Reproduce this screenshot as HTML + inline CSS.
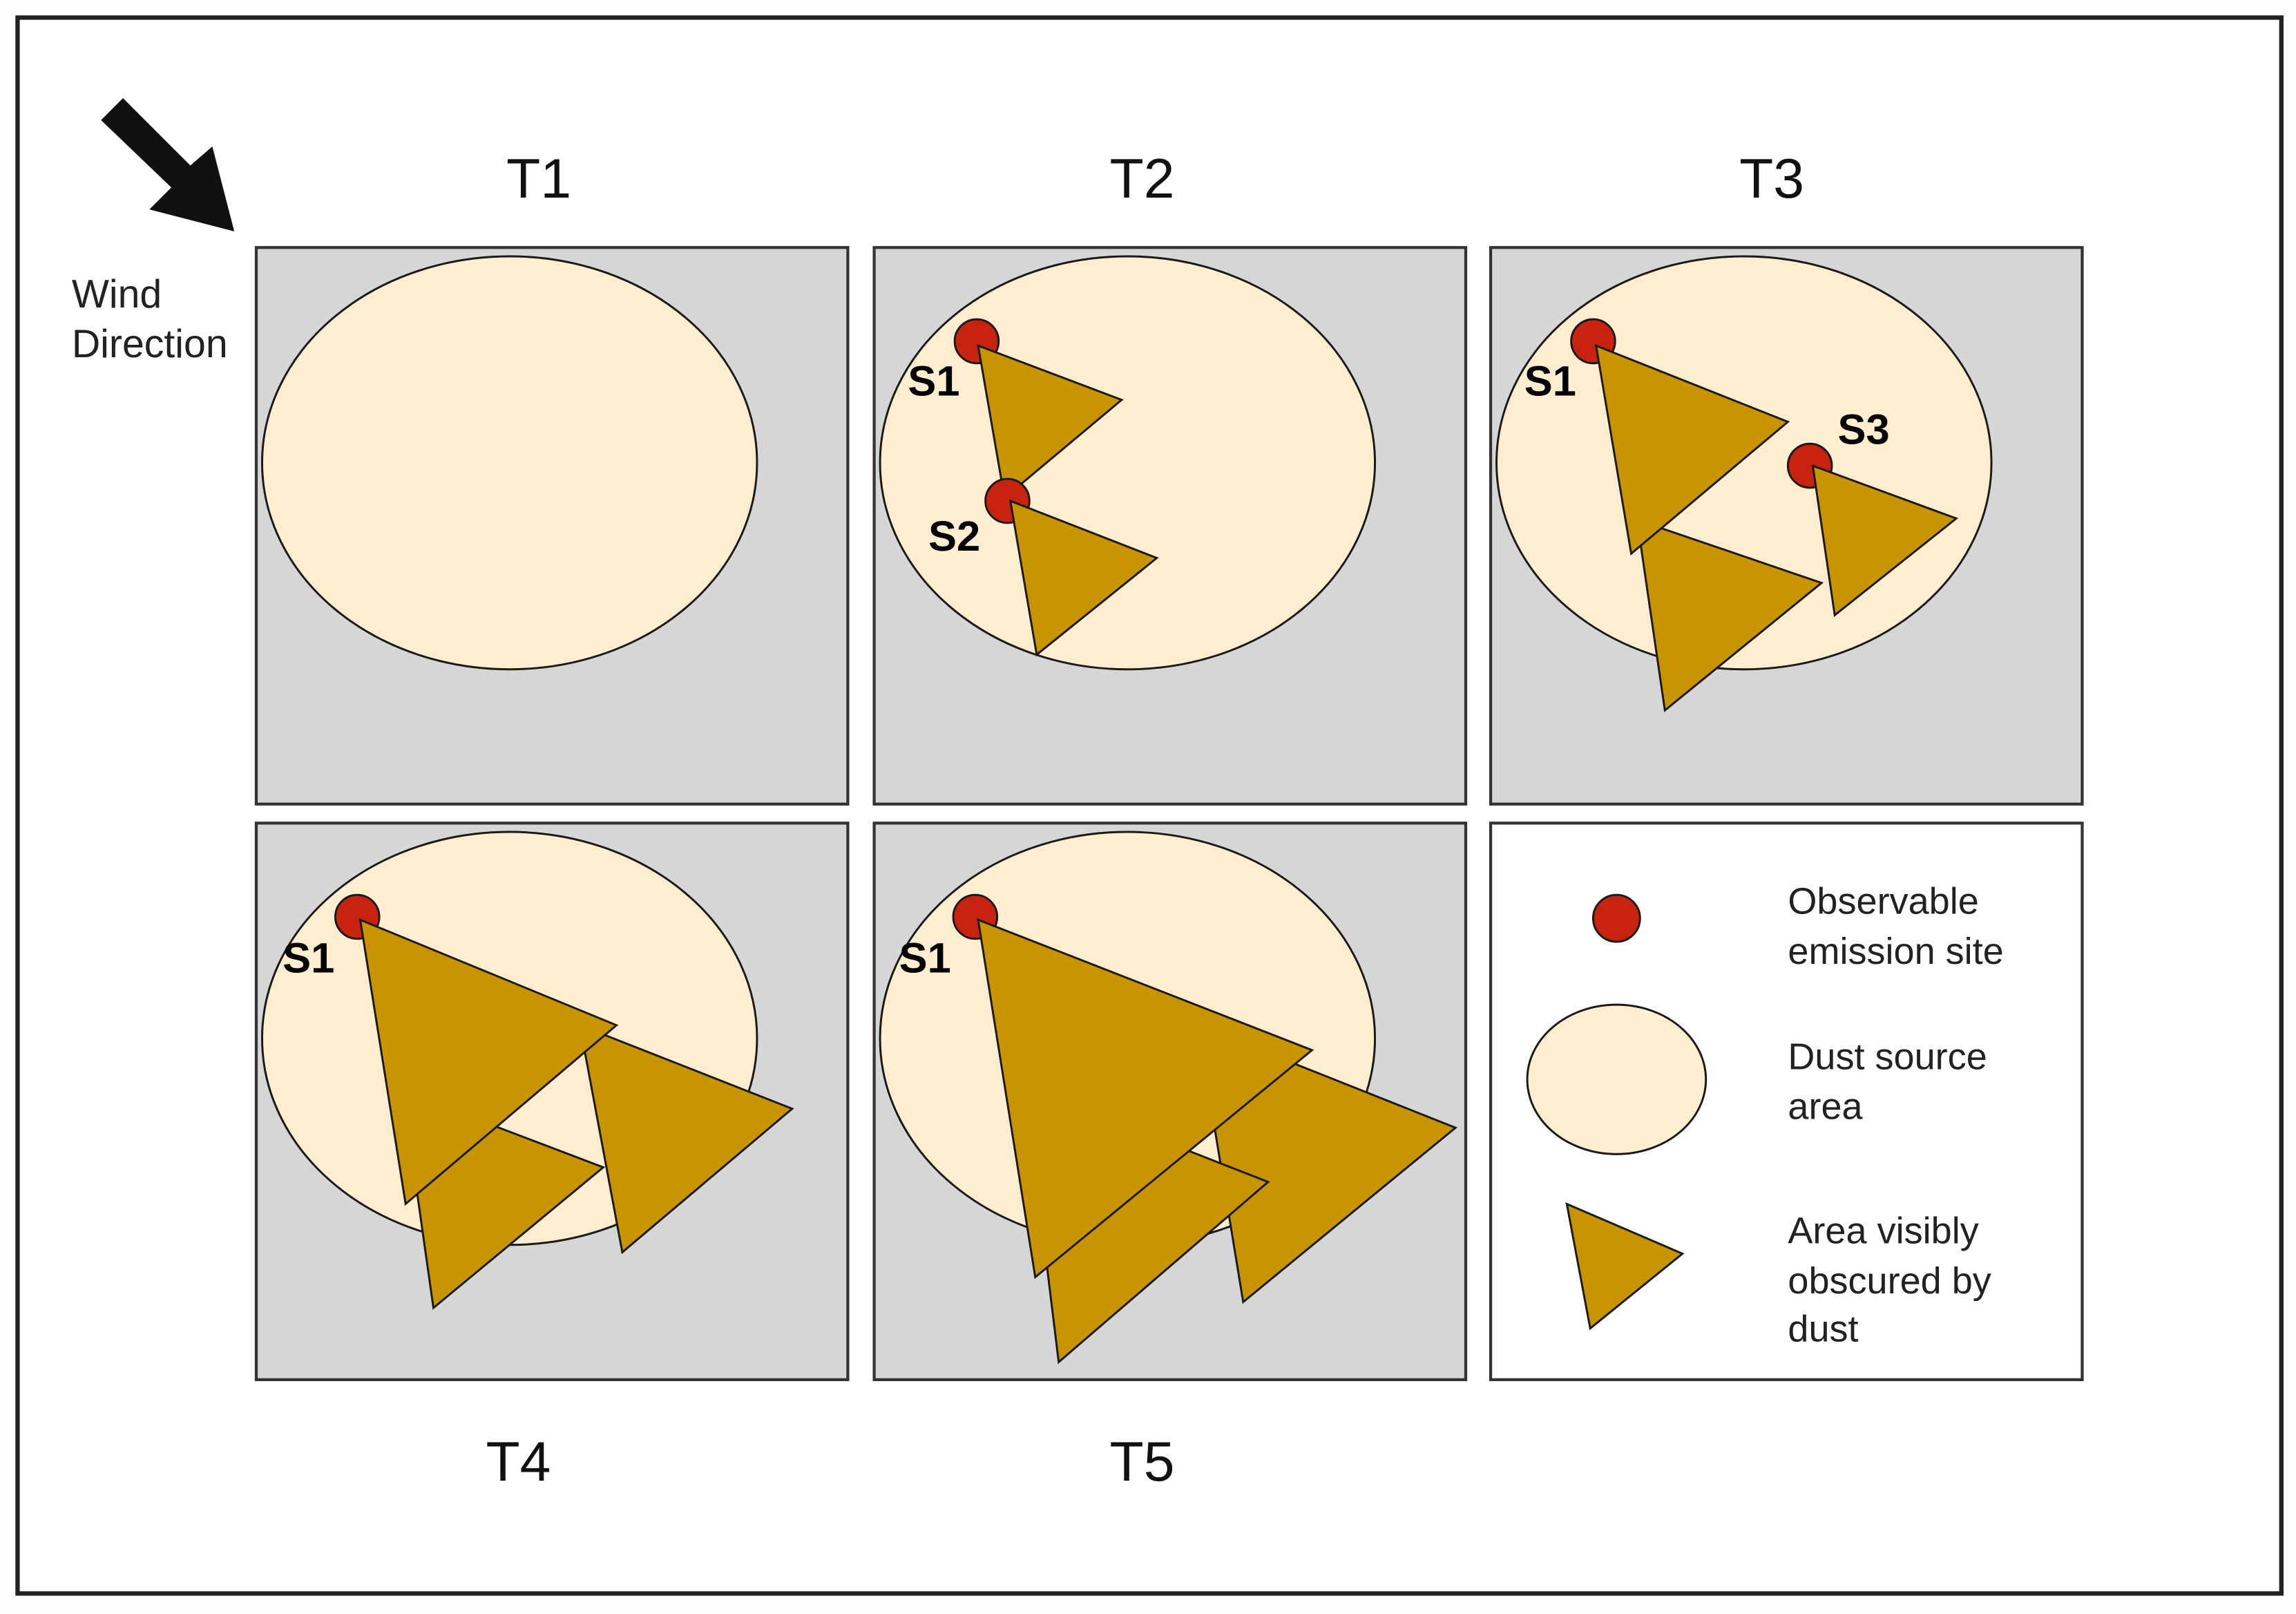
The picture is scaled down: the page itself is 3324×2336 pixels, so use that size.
<!DOCTYPE html>
<html><head><meta charset="utf-8"><style>html,body{margin:0;padding:0;background:#fff}svg{display:block}</style></head>
<body>
<svg width="3324" height="2336" viewBox="0 0 1568 1102" preserveAspectRatio="none" xmlns="http://www.w3.org/2000/svg" font-family="Liberation Sans, sans-serif">
<rect x="0" y="0" width="1568" height="1102" fill="#fdfdfd"/>
<rect x="12" y="12" width="1546" height="1076" fill="#fff" stroke="#222" stroke-width="3"/>
<polygon points="69,82 84,67 130,113 145,100 160,158 102,143 117,128" fill="#111"/>
<text x="49" y="210" font-size="27" fill="#222">Wind</text>
<text x="49" y="244" font-size="27" fill="#222">Direction</text>
<g font-size="38" fill="#111" text-anchor="middle">
<text x="368" y="135">T1</text><text x="780" y="135">T2</text><text x="1210" y="135">T3</text>
<text x="354" y="1011">T4</text><text x="780" y="1011">T5</text>
</g>
<g stroke="#333" stroke-width="2">
<rect x="175" y="169" width="404" height="380" fill="#d6d6d6"/>
<rect x="597" y="169" width="404" height="380" fill="#d6d6d6"/>
<rect x="1018" y="169" width="404" height="380" fill="#d6d6d6"/>
<rect x="175" y="562" width="404" height="380" fill="#d6d6d6"/>
<rect x="597" y="562" width="404" height="380" fill="#d6d6d6"/>
<rect x="1018" y="562" width="404" height="380" fill="#fff"/>
</g>
<g fill="#ffedcf" stroke="#1a1a1a" stroke-width="1.4">
<ellipse cx="348" cy="316" rx="169" ry="141"/>
<ellipse cx="770" cy="316" rx="169" ry="141"/>
<ellipse cx="1191" cy="316" rx="169" ry="141"/>
<ellipse cx="348" cy="709" rx="169" ry="141"/>
<ellipse cx="770" cy="709" rx="169" ry="141"/>
<ellipse cx="1104" cy="737" rx="61" ry="51"/>
</g>
<g stroke="#1a1a1a" stroke-width="1.4">
<circle cx="667" cy="233" r="15" fill="#c8230f"/>
<polygon points="668,236 766,273 686,340" fill="#c89400"/>
<circle cx="688" cy="342" r="15" fill="#c8230f"/>
<polygon points="690,342 790,381 708,447" fill="#c89400"/>
<circle cx="1088" cy="233" r="15" fill="#c8230f"/>
<polygon points="1118,355 1244,398 1137,485" fill="#c89400"/>
<polygon points="1090,236 1221,288 1114,378" fill="#c89400"/>
<circle cx="1236" cy="318" r="15" fill="#c8230f"/>
<polygon points="1238,318 1336,354 1253,420" fill="#c89400"/>
<circle cx="244" cy="626" r="15" fill="#c8230f"/>
<polygon points="275,745 412,797 296,893" fill="#c89400"/>
<polygon points="396,700 541,757 425,855" fill="#c89400"/>
<polygon points="246,628 421,700 277,822" fill="#c89400"/>
<circle cx="666" cy="626" r="15" fill="#c8230f"/>
<polygon points="818,700 994,770 849,889" fill="#c89400"/>
<polygon points="700,742 866,807 723,930" fill="#c89400"/>
<polygon points="668,628 896,717 707,872" fill="#c89400"/>
<circle cx="1104" cy="627" r="16" fill="#c8230f"/>
<polygon points="1070,822 1149,856 1086,907" fill="#c89400"/>
</g>
<g font-size="29" font-weight="bold" fill="#000">
<text x="620" y="270">S1</text><text x="634" y="376">S2</text>
<text x="1041" y="270">S1</text><text x="1255" y="303">S3</text>
<text x="193" y="664">S1</text><text x="614" y="664">S1</text>
</g>
<g font-size="25.5" fill="#222">
<text x="1221" y="624">Observable</text><text x="1221" y="658">emission site</text>
<text x="1221" y="730">Dust source</text><text x="1221" y="764">area</text>
<text x="1221" y="849">Area visibly</text><text x="1221" y="883">obscured by</text><text x="1221" y="916">dust</text>
</g>
</svg>
</body></html>
